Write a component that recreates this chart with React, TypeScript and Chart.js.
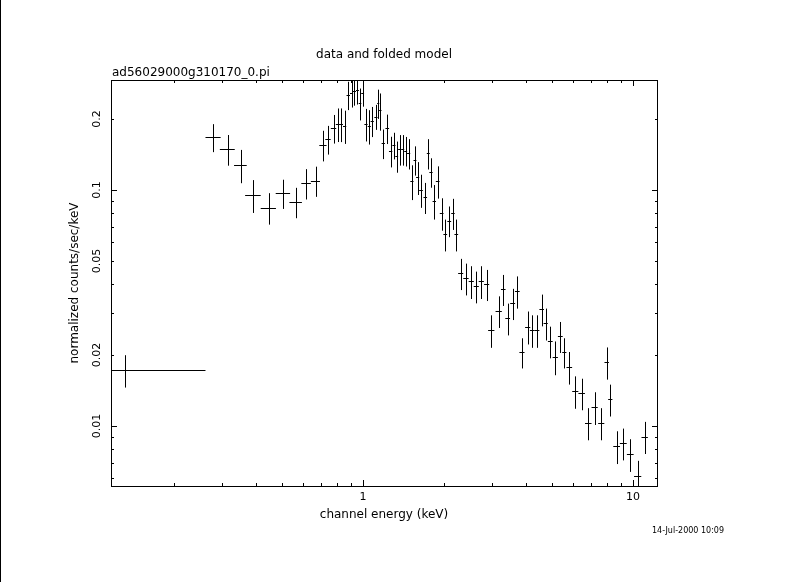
import React, { useEffect, useRef } from 'react';
import { Chart, registerables } from 'chart.js';

Chart.register(...registerables);

// ---- data (energy in keV, normalized counts/sec/keV) ----
const energy = [
  0.131, 0.279, 0.315, 0.352, 0.392, 0.447, 0.506, 0.564, 0.616, 0.667,
  0.711, 0.742, 0.778, 0.808, 0.831, 0.855,
  0.882, 0.907, 0.930, 0.954, 0.975, 0.997, 1.026, 1.055, 1.082, 1.117,
  1.139, 1.159, 1.189, 1.230, 1.266, 1.302, 1.333, 1.367, 1.403, 1.439,
  1.476, 1.518, 1.558, 1.594, 1.640, 1.701, 1.745, 1.786, 1.837, 1.891,
  1.956, 2.017, 2.087, 2.154, 2.216,
  2.301, 2.407, 2.518, 2.628, 2.743, 2.871, 2.987, 3.182, 3.308, 3.435,
  3.584, 3.729, 3.880, 4.074, 4.236, 4.410, 4.591, 4.750, 4.940, 5.155,
  5.380, 5.568, 5.810, 6.114, 6.457, 6.831, 7.212, 7.630, 7.991, 8.240,
  8.701, 9.207, 9.772, 10.41, 11.05,
];
const energyHalf = [
  0.130, 0.018, 0.020, 0.019, 0.026, 0.029, 0.031, 0.030, 0.025, 0.026,
  0.022, 0.017, 0.018, 0.015, 0.012, 0.012,
  0.013, 0.012, 0.012, 0.012, 0.011, 0.012, 0.014, 0.014, 0.015, 0.015,
  0.010, 0.012, 0.017, 0.019, 0.018, 0.017, 0.016, 0.018, 0.018, 0.018,
  0.020, 0.021, 0.019, 0.021, 0.026, 0.026, 0.022, 0.025, 0.027, 0.030,
  0.031, 0.032, 0.034, 0.032, 0.035,
  0.050, 0.055, 0.055, 0.057, 0.060, 0.062, 0.080, 0.085, 0.065, 0.070,
  0.075, 0.075, 0.085, 0.090, 0.085, 0.090, 0.090, 0.085, 0.100, 0.115,
  0.110, 0.100, 0.140, 0.160, 0.180, 0.190, 0.190, 0.200, 0.150, 0.150,
  0.250, 0.270, 0.280, 0.320, 0.300,
];
const rate = [
  0.01725, 0.1673, 0.1488, 0.1273, 0.0950, 0.0841, 0.0968, 0.0890, 0.1068, 0.1095,
  0.1551, 0.1640, 0.1825, 0.1905, 0.1905, 0.1867,
  0.2526, 0.2564, 0.2615, 0.2640, 0.2330, 0.2583, 0.1905, 0.1867, 0.1961, 0.2045,
  0.2330, 0.2173, 0.1577, 0.1825, 0.1463, 0.1547, 0.1393, 0.1488, 0.1488, 0.1467,
  0.1431, 0.1089, 0.1340, 0.1132, 0.1000, 0.0931, 0.1431, 0.1192, 0.0899, 0.1089,
  0.0797, 0.0649, 0.0741, 0.0797, 0.0649,
  0.04436, 0.04224, 0.04102, 0.03908, 0.04102, 0.03984, 0.02544, 0.03072, 0.03795, 0.02860,
  0.03311, 0.03722, 0.02053, 0.02635, 0.02544, 0.02544, 0.03123, 0.02723, 0.02285, 0.01961,
  0.02399, 0.02053, 0.01778, 0.01403, 0.01376, 0.0103, 0.0120, 0.0103, 0.01862, 0.01297,
  0.0082, 0.00845, 0.00759, 0.00612, 0.00901,
];
const rateErr = [
  0.0027, 0.0227, 0.0221, 0.0205, 0.0151, 0.0128, 0.0137, 0.0131, 0.0157, 0.0160,
  0.0230, 0.0228, 0.0253, 0.0309, 0.0310, 0.0300,
  0.0347, 0.0330, 0.0340, 0.0340, 0.0360, 0.0330, 0.0300, 0.0310, 0.0286, 0.0248,
  0.0330, 0.0390, 0.0226, 0.0260, 0.0217, 0.0200, 0.0210, 0.0220, 0.0220, 0.0210,
  0.0210, 0.0183, 0.0190, 0.0180, 0.0160, 0.0140, 0.0210, 0.0170, 0.0150, 0.0170,
  0.0125, 0.0100, 0.0110, 0.0120, 0.0100,
  0.0067, 0.0065, 0.0065, 0.0060, 0.0065, 0.0060, 0.0040, 0.0047, 0.0057, 0.0044,
  0.0050, 0.0058, 0.0030, 0.0042, 0.0040, 0.0040, 0.0048, 0.0042, 0.0035, 0.0032,
  0.0036, 0.0030, 0.0028, 0.0022, 0.0021, 0.0016, 0.0019, 0.0016, 0.0029, 0.0020,
  0.0013, 0.0013, 0.0012, 0.0010, 0.0014,
];

// ---- axes ----
const xMin = 0.1166;
const xMax = 12.27;
const yMin = 0.00557;
const yMax = 0.2923;
const xTickValues = [0.2, 0.3, 0.4, 0.5, 0.6, 0.7, 0.8, 0.9, 1, 2, 3, 4, 5, 6, 7, 8, 9, 10];
const xMajorTicks = [1, 10];
const xTickLabels = ['1', '10'];
const yTickValues = [0.006, 0.007, 0.008, 0.009, 0.01, 0.02, 0.03, 0.04, 0.05, 0.06, 0.07, 0.08, 0.09, 0.1, 0.2];
const yMajorTicks = [0.01, 0.1];
const yLabelValues = [0.01, 0.02, 0.05, 0.1, 0.2];
const yTickLabels = ['0.01', '0.02', '0.05', '0.1', '0.2'];

// ---- texts ----
const plotTitle = 'data and folded model';
const fileName = 'ad56029000g310170_0.pi';
const xTitle = 'channel energy (keV)';
const yTitle = 'normalized counts/sec/keV';
const stamp = '14-Jul-2000 10:09';

const FONT = "'DejaVu Sans', sans-serif";

const errorBarPlugin = {
  id: 'errorBars',
  afterDatasetsDraw(chart: any) {
    const { ctx, chartArea } = chart;
    const xs = chart.scales.x;
    const ys = chart.scales.y;
    ctx.save();
    ctx.beginPath();
    ctx.rect(chartArea.left, chartArea.top, chartArea.right - chartArea.left, chartArea.bottom - chartArea.top);
    ctx.clip();
    ctx.strokeStyle = '#000';
    ctx.lineWidth = 1;
    ctx.beginPath();
    for (let i = 0; i < energy.length; i++) {
      const px = Math.round(xs.getPixelForValue(energy[i])) + 0.5;
      const xl = xs.getPixelForValue(Math.max(energy[i] - energyHalf[i], 1e-6));
      const xr = xs.getPixelForValue(energy[i] + energyHalf[i]);
      const py = Math.round(ys.getPixelForValue(rate[i])) + 0.5;
      const yt = ys.getPixelForValue(rate[i] + rateErr[i]);
      const yb = ys.getPixelForValue(Math.max(rate[i] - rateErr[i], 1e-6));
      ctx.moveTo(Math.min(xl, chartArea.left - 2), py);
      ctx.moveTo(xl, py);
      ctx.lineTo(xr, py);
      ctx.moveTo(px, yt);
      ctx.lineTo(px, yb);
    }
    ctx.stroke();
    ctx.restore();
  },
  afterDraw(chart: any) {
    const { ctx, chartArea } = chart;
    const { left, right, top, bottom } = chartArea;
    const xs = chart.scales.x;
    const ys = chart.scales.y;
    ctx.save();
    ctx.strokeStyle = '#000';
    ctx.lineWidth = 1;
    // frame
    ctx.strokeRect(left + 0.5, top + 0.5, right - left, bottom - top);
    // ticks on all four sides, pointing inward
    ctx.beginPath();
    for (const t of xs.ticks) {
      const p = Math.round(xs.getPixelForValue(t.value)) + 0.5;
      const len = xMajorTicks.includes(t.value) ? 6 : 3;
      ctx.moveTo(p, bottom);
      ctx.lineTo(p, bottom - len);
      ctx.moveTo(p, top);
      ctx.lineTo(p, top + len);
    }
    for (const t of ys.ticks) {
      const p = Math.round(ys.getPixelForValue(t.value)) + 0.5;
      const len = yMajorTicks.includes(t.value) ? 6 : 3;
      ctx.moveTo(left, p);
      ctx.lineTo(left + len, p);
      ctx.moveTo(right + 1, p);
      ctx.lineTo(right + 1 - len, p);
    }
    ctx.stroke();
    // page edge line on the far left
    ctx.fillStyle = '#000';
    ctx.fillRect(0, 0, 1, chart.height);
    // texts
    ctx.textBaseline = 'alphabetic';
    ctx.font = `12px ${FONT}`;
    ctx.textAlign = 'center';
    ctx.fillText(plotTitle, (left + right) / 2, 58);
    ctx.textAlign = 'left';
    ctx.fillText(fileName, left + 1, 76);
    ctx.font = `8px ${FONT}`;
    ctx.fillText(stamp, 652, 533);
    ctx.restore();
  },
};

export default function App() {
  const canvasRef = useRef<HTMLCanvasElement | null>(null);

  useEffect(() => {
    const canvas = canvasRef.current;
    if (!canvas) return;
    const chart = new Chart(canvas, {
      type: 'scatter',
      data: {
        datasets: [
          {
            data: energy.map((e, i) => ({ x: e, y: rate[i] })),
            pointRadius: 0,
            showLine: false,
          },
        ],
      },
      options: {
        animation: false,
        responsive: false,
        maintainAspectRatio: false,
        devicePixelRatio: 1,
        layout: { padding: { left: 60, right: 133, top: 80, bottom: 60 } },
        plugins: {
          legend: { display: false },
          tooltip: { enabled: false },
          title: { display: false },
        },
        scales: {
          x: {
            type: 'logarithmic',
            position: 'bottom',
            min: xMin,
            max: xMax,
            grid: { display: false, drawTicks: false },
            border: { display: false },
            afterBuildTicks: (scale: any) => {
              scale.ticks = xTickValues.map((v) => ({ value: v }));
            },
            afterFit: (scale: any) => {
              scale.height = 36;
            },
            ticks: {
              autoSkip: false,
              maxRotation: 0,
              minRotation: 0,
              padding: 5,
              color: '#000',
              font: { family: FONT, size: 11 },
              callback: (v: any) => {
                const k = xMajorTicks.indexOf(Number(v));
                return k >= 0 ? xTickLabels[k] : '';
              },
            },
            title: {
              display: true,
              text: xTitle,
              color: '#000',
              font: { family: FONT, size: 12 },
              padding: { top: 0, bottom: 0 },
            },
          },
          y: {
            type: 'logarithmic',
            position: 'left',
            min: yMin,
            max: yMax,
            grid: { display: false, drawTicks: false },
            border: { display: false },
            afterBuildTicks: (scale: any) => {
              scale.ticks = yTickValues.map((v) => ({ value: v }));
            },
            afterFit: (scale: any) => {
              scale.width = 51;
            },
            ticks: {
              autoSkip: false,
              minRotation: 90,
              maxRotation: 90,
              crossAlign: 'center',
              padding: 2,
              color: '#000',
              font: { family: FONT, size: 11 },
              callback: (v: any) => {
                const k = yLabelValues.indexOf(Number(v));
                return k >= 0 ? yTickLabels[k] : '';
              },
            },
            title: {
              display: true,
              text: yTitle,
              color: '#000',
              font: { family: FONT, size: 12 },
              padding: { top: 8, bottom: 0 },
            },
          },
        },
      } as any,
      plugins: [errorBarPlugin],
    });
    return () => chart.destroy();
  }, []);

  return (
    <div style={{ position: 'fixed', left: 0, top: 0, width: 790, height: 582, background: '#fff' }}>
      <canvas ref={canvasRef} width={790} height={582} style={{ display: 'block' }} />
    </div>
  );
}
